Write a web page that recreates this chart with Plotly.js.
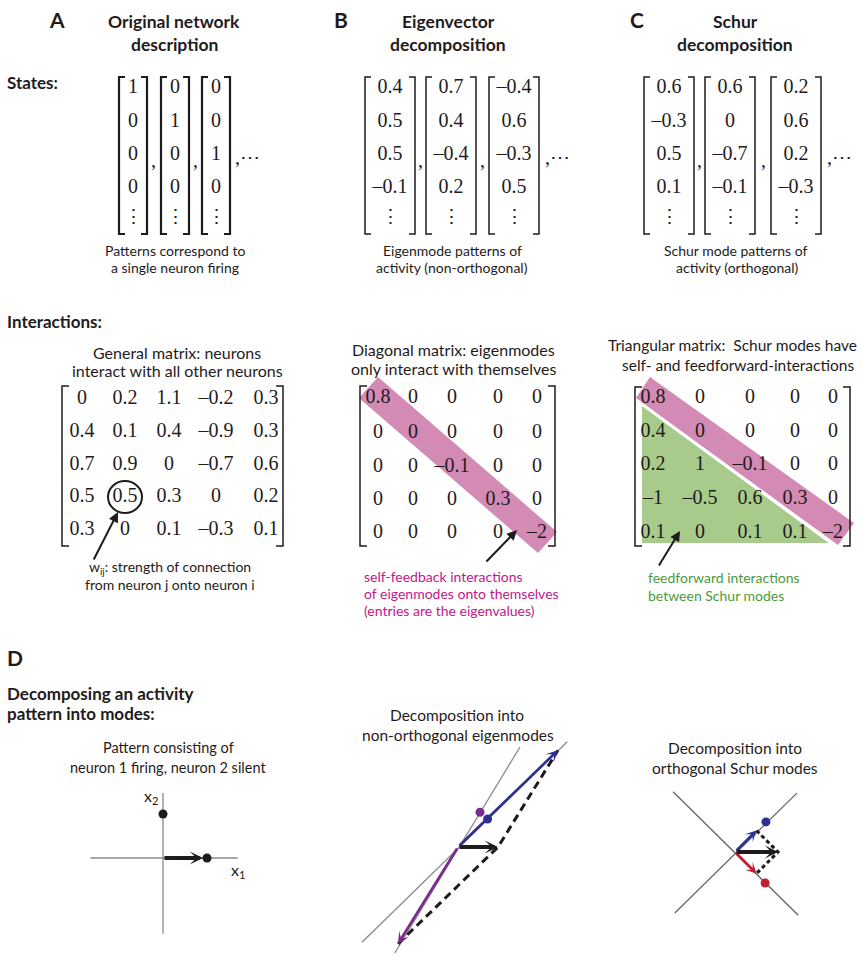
<!DOCTYPE html>
<html><head><meta charset="utf-8">
<script src="https://cdn.plot.ly/plotly-3.0.1.min.js"></script>
<style>html,body{margin:0;padding:0;background:#fff}</style>
</head><body><div id="chart" style="width:862px;height:957px"></div>
<script>
// ---------------- DATA ----------------
const stateVectors = [[1,0,0,0],[0,1,0,0],[0,0,1,0]];
const eigenVectors = [[0.4,0.5,0.5,-0.1],[0.7,0.4,-0.4,0.2],[-0.4,0.6,-0.3,0.5]];
const schurVectors = [[0.6,-0.3,0.5,0.1],[0.6,0,-0.7,-0.1],[0.2,0.6,0.2,-0.3]];
const weightMatrix = [
  [0,0.2,1.1,-0.2,0.3],
  [0.4,0.1,0.4,-0.9,0.3],
  [0.7,0.9,0,-0.7,0.6],
  [0.5,0.5,0.3,0,0.2],
  [0.3,0,0.1,-0.3,0.1]];
const eigenvalues = [0.8,0,-0.1,0.3,-2];
const schurMatrix = [
  [0.8,0,0,0,0],
  [0.4,0,0,0,0],
  [0.2,1,-0.1,0,0],
  [-1,-0.5,0.6,0.3,0],
  [0.1,0,0.1,0.1,-2]];
const circledEntry = [3,1];
// Panel D
const activityPattern = [1, 0];
const neuronDots = [[1,0],[0,1]];
const d1AxisX = [-1.65, 1.7];
const d1AxisY = [-1.72, 1.48];
const eigenBlueComp = [2.5, 2.42];
const eigenPurpleComp = [-1.5, -2.42];
const eigenBlueUnit = [0.74, 0.7];
const eigenPurpleUnit = [0.55, 0.87];
const eigenBlueLine = [[-2.4,-2.38],[2.73,2.63]];
const eigenPurpleLine = [[-1.58,-2.65],[1.55,2.5]];
const schurBlueComp = [0.5, 0.5];
const schurRedComp = [0.5, -0.5];
const schurBlueUnit = [0.72, 0.7];
const schurRedUnit = [0.7, -0.72];
const schurBlueLine = [[-1.4,-1.42],[1.44,1.37]];
const schurRedLine = [[-1.44,1.4],[1.47,-1.47]];

// ---------------- LAYOUT HELPERS ----------------
const W = 862, H = 957;
const SANS = 'Lato, "Open Sans", sans-serif';
const SERIF = '"Liberation Serif", "DejaVu Serif", serif';
const INK = '#1f1b1c';
const BLUE = '#2e3192', PURPLE = '#7b2a8e', RED = '#be1e2d';
const PINK = '#d38ab4', GREEN = '#a8cb8c', MAGENTA = '#c1188c', DKGREEN = '#4c9a3c';
const GRAY = '#8a8a8a';

const fmt = v => v < 0 ? '\u2013' + Math.abs(v) : String(v);

const traces = [], shapes = [], annotations = [];

function txt(x, y, text, size, opts) {
  opts = opts || {};
  annotations.push({x, y, xref:'x', yref:'y', text, showarrow:false,
    xanchor: opts.anchor || 'center', yanchor:'middle',
    font:{family: opts.family || SANS, size, color: opts.color || INK, weight: opts.bold ? 700 : 400}});
}
function bracket(xl, xr, top, bot, serif, w) {
  shapes.push({type:'path', xref:'x', yref:'y', layer:'above',
    path:`M${xl+serif},${top} L${xl},${top} L${xl},${bot} L${xl+serif},${bot}`, line:{color:INK, width:w}});
  shapes.push({type:'path', xref:'x', yref:'y', layer:'above',
    path:`M${xr-serif},${top} L${xr},${top} L${xr},${bot} L${xr-serif},${bot}`, line:{color:INK, width:w}});
}
function vectorGroup(vectors, centers, halfW, commaX, moreX, bw) {
  const rowsY = [88, 122, 155, 188], dotsY = 216, top = 77, bot = 234;
  vectors.forEach((vec, i) => {
    traces.push({type:'scatter', mode:'text', xaxis:'x', yaxis:'y', cliponaxis:false, hoverinfo:'skip',
      x: vec.map(() => centers[i]), y: rowsY, text: vec.map(fmt),
      textfont:{family:SERIF, size:20, color:INK}, textposition:'middle center'});
    txt(centers[i], dotsY, '\u22ee', 19, {family:SERIF});
    bracket(centers[i]-halfW, centers[i]+halfW, top, bot, 6, bw);
  });
  commaX.forEach(cx => txt(cx, 160, ',', 20, {family:SERIF}));
  txt(moreX, 157, ',\u22ef', 20, {family:SERIF, anchor:'left'});
}
function matrixGroup(M, cols, rows, left, right, top, bot) {
  M.forEach((row, r) => {
    traces.push({type:'scatter', mode:'text', xaxis:'x', yaxis:'y', cliponaxis:false, hoverinfo:'skip',
      x: cols, y: row.map(() => rows[r]), text: row.map(fmt),
      textfont:{family:SERIF, size:20, color:INK}, textposition:'middle center'});
  });
  bracket(left, right, top, bot, 7, 1.5);
}

// ---------------- PANELS A-C : headers ----------------
txt(57, 19, 'A', 21, {bold:true});
txt(174, 21, 'Original network', 17.5, {bold:true});
txt(174, 44, 'description', 17.5, {bold:true});
txt(341, 19, 'B', 21, {bold:true});
txt(448, 21, 'Eigenvector', 17.5, {bold:true});
txt(448, 44, 'decomposition', 17.5, {bold:true});
txt(637, 19, 'C', 21, {bold:true});
txt(735, 21, 'Schur', 17.5, {bold:true});
txt(735, 44, 'decomposition', 17.5, {bold:true});
txt(5, 82, 'States:', 17, {bold:true, anchor:'left'});
txt(5, 321, 'Interactions:', 17, {bold:true, anchor:'left'});

// state vectors
vectorGroup(stateVectors, [133, 175, 216], 14, [153, 195], 233, 2.2);
vectorGroup(eigenVectors, [390, 451, 514], 25, [420, 482], 543, 1.5);
vectorGroup(schurVectors, [669, 730, 796], 25, [699, 763], 825, 1.5);

txt(175, 250, 'Patterns correspond to', 14);
txt(175, 267, 'a single neuron firing', 14);
txt(452, 250, 'Eigenmode patterns of', 14);
txt(452, 267, 'activity (non-orthogonal)', 14);
txt(735, 250, 'Schur mode patterns of', 14);
txt(737, 267, 'activity (orthogonal)', 14);

// ---------------- matrices ----------------
txt(177, 352, 'General matrix: neurons', 16);
txt(177, 370, 'interact with all other neurons', 16);
txt(453, 349, 'Diagonal matrix: eigenmodes', 16);
txt(453, 368, 'only interact with themselves', 16);
txt(732, 345, 'Triangular matrix:  Schur modes have', 15.5);
txt(738, 365, 'self- and feedforward-interactions', 15.5);

// A matrix
const colsA = [82,125,169,216,266], rowsA = [399,432,465,497,530];
matrixGroup(weightMatrix, colsA, rowsA, 62, 283, 386, 546);
const cc = [colsA[circledEntry[1]], rowsA[circledEntry[0]]];
shapes.push({type:'circle', xref:'x', yref:'y', x0:cc[0]-17, x1:cc[0]+17, y0:cc[1]-16, y1:cc[1]+16, line:{color:INK, width:2}});
annotations.push({x:cc[0]-7, y:cc[1]+15, xref:'x', yref:'y', ax:93, ay:561, axref:'x', ayref:'y', text:'', showarrow:true,
  arrowhead:2, arrowwidth:2, arrowsize:1, arrowcolor:INK});
txt(170, 567, 'w<sub>ij</sub>: strength of connection', 14);
txt(170, 584, 'from neuron j onto neuron i', 14);

// B matrix
const colsB = [378,413,452,498,537], rowsB = [398,433,467,500,533];
shapes.push({type:'path', xref:'x', yref:'y', layer:'below', path:'M378,377 L557,532 L538,553 L359,398 Z', fillcolor:PINK, line:{width:0}});
const diagMatrix = eigenvalues.map((v, i) => eigenvalues.map((_, j) => i === j ? v : 0));
matrixGroup(diagMatrix, colsB, rowsB, 360, 555, 386, 546);
annotations.push({x:517, y:530, xref:'x', yref:'y', ax:485, ay:563, axref:'x', ayref:'y', text:'', showarrow:true,
  arrowhead:2, arrowwidth:2, arrowsize:1, arrowcolor:INK});
txt(362, 576, 'self-feedback interactions', 14, {anchor:'left', color:MAGENTA});
txt(362, 593, 'of eigenmodes onto themselves', 14, {anchor:'left', color:MAGENTA});
txt(362, 610, '(entries are the eigenvalues)', 14, {anchor:'left', color:MAGENTA});

// C matrix
const colsC = [653,700,750,795,833], rowsC = [398,432,465,499,533];
shapes.push({type:'path', xref:'x', yref:'y', layer:'below', path:'M642,405 L642,543 L830,543 Z', fillcolor:GREEN, line:{width:0}});
shapes.push({type:'line', xref:'x', yref:'y', layer:'below', x0:639, y0:402, x1:834, y1:545, line:{color:'#ffffff', width:3}});
shapes.push({type:'path', xref:'x', yref:'y', layer:'below', path:'M650,377 L854,523 L838,545 L636,398 Z', fillcolor:PINK, line:{width:0}});
matrixGroup(schurMatrix, colsC, rowsC, 635, 850, 387, 546);
annotations.push({x:680, y:531, xref:'x', yref:'y', ax:658, ay:567, axref:'x', ayref:'y', text:'', showarrow:true,
  arrowhead:2, arrowwidth:2, arrowsize:1, arrowcolor:INK});
txt(646, 577, 'feedforward interactions', 14, {anchor:'left', color:DKGREEN});
txt(646, 595, 'between Schur modes', 14, {anchor:'left', color:DKGREEN});

// ---------------- PANEL D ----------------
txt(15, 657, 'D', 21, {bold:true});
txt(5, 693, 'Decomposing an activity', 17, {bold:true, anchor:'left'});
txt(5, 713, 'pattern into modes:', 17, {bold:true, anchor:'left'});
txt(168, 747, 'Pattern consisting of', 14.5);
txt(168, 767, 'neuron 1 firing, neuron 2 silent', 14.5);
txt(457, 715, 'Decomposition into', 15.5);
txt(458, 735, 'non-orthogonal eigenmodes', 15.5);
txt(735, 748, 'Decomposition into', 15.5);
txt(735, 768, 'orthogonal Schur modes', 15.5);

const layout = {
  width: W, height: H, margin:{l:0,r:0,t:0,b:0}, showlegend:false,
  paper_bgcolor:'#fff', plot_bgcolor:'rgba(0,0,0,0)',
  xaxis:{domain:[0,1], range:[0,W], visible:false, fixedrange:true},
  yaxis:{domain:[0,1], range:[H,0], visible:false, fixedrange:true},
};
function subAxes(n, ox, oy, unit, left, right, top, bottom) {
  layout['xaxis'+n] = {domain:[left/W, right/W], range:[(left-ox)/unit, (right-ox)/unit], visible:false, fixedrange:true, anchor:'y'+n};
  layout['yaxis'+n] = {domain:[(H-bottom)/H, (H-top)/H], range:[(oy-bottom)/unit, (oy-top)/unit], visible:false, fixedrange:true, anchor:'x'+n};
}
subAxes(2, 163, 858, 44, 60, 280, 780, 950);
subAxes(3, 458, 847, 40, 318, 598, 727, 957);
subAxes(4, 735, 852, 43, 640, 830, 780, 940);

function line(n, pts, color, width, dash) {
  traces.push({type:'scatter', mode:'lines', xaxis:'x'+n, yaxis:'y'+n, hoverinfo:'skip', cliponaxis:false,
    x: pts.map(p => p[0]), y: pts.map(p => p[1]), line:{color, width, dash: dash || 'solid'}});
}
function dots(n, pts, colors, size) {
  traces.push({type:'scatter', mode:'markers', xaxis:'x'+n, yaxis:'y'+n, hoverinfo:'skip', cliponaxis:false,
    x: pts.map(p => p[0]), y: pts.map(p => p[1]), marker:{color:colors, size}});
}
function arrow(n, from, to, color, width, size, standoff) {
  annotations.push({x:to[0], y:to[1], ax:from[0], ay:from[1], xref:'x'+n, yref:'y'+n, axref:'x'+n, ayref:'y'+n,
    text:'', showarrow:true, arrowhead:3, arrowwidth:width, arrowsize:size, arrowcolor:color, standoff: standoff || 0});
}
const O = [0,0];

// D1
line(2, [[d1AxisX[0],0],[d1AxisX[1],0]], GRAY, 1.3);
line(2, [[0,d1AxisY[0]],[0,d1AxisY[1]]], GRAY, 1.3);
dots(2, neuronDots, INK, 9);
arrow(2, O, activityPattern, INK, 4, 0.55, 4);
annotations.push({x:0, y:1.4, xref:'x2', yref:'y2', text:'x<sub>2</sub>', showarrow:false, xanchor:'right', yanchor:'middle', xshift:-3,
  font:{family:SANS, size:16, color:INK}});
annotations.push({x:1.7, y:-0.28, xref:'x2', yref:'y2', text:'x<sub>1</sub>', showarrow:false, xanchor:'center', yanchor:'middle',
  font:{family:SANS, size:16, color:INK}});

// D2
line(3, eigenBlueLine, GRAY, 1.3);
line(3, eigenPurpleLine, GRAY, 1.3);
line(3, [eigenPurpleComp, activityPattern, eigenBlueComp], INK, 3, '8px,5px');
dots(3, [eigenPurpleUnit, eigenBlueUnit], [PURPLE, BLUE], 9);
arrow(3, O, eigenBlueComp, BLUE, 2.6, 0.75);
arrow(3, O, eigenPurpleComp, PURPLE, 2.6, 0.75);
arrow(3, O, activityPattern, INK, 4, 0.55);

// D3 Schur
line(4, schurBlueLine, '#666', 1.3);
line(4, schurRedLine, '#666', 1.3);
line(4, [schurBlueComp, activityPattern, schurRedComp], INK, 3, '4px,3px');
dots(4, [schurBlueUnit, schurRedUnit], [BLUE, RED], 9);
arrow(4, O, schurBlueComp, BLUE, 2.6, 0.7);
arrow(4, O, schurRedComp, RED, 2.6, 0.7);
arrow(4, O, activityPattern, INK, 4, 0.55);

layout.shapes = shapes;
layout.annotations = annotations;
Plotly.newPlot('chart', traces, layout, {staticPlot:true, displayModeBar:false});
</script></body></html>
